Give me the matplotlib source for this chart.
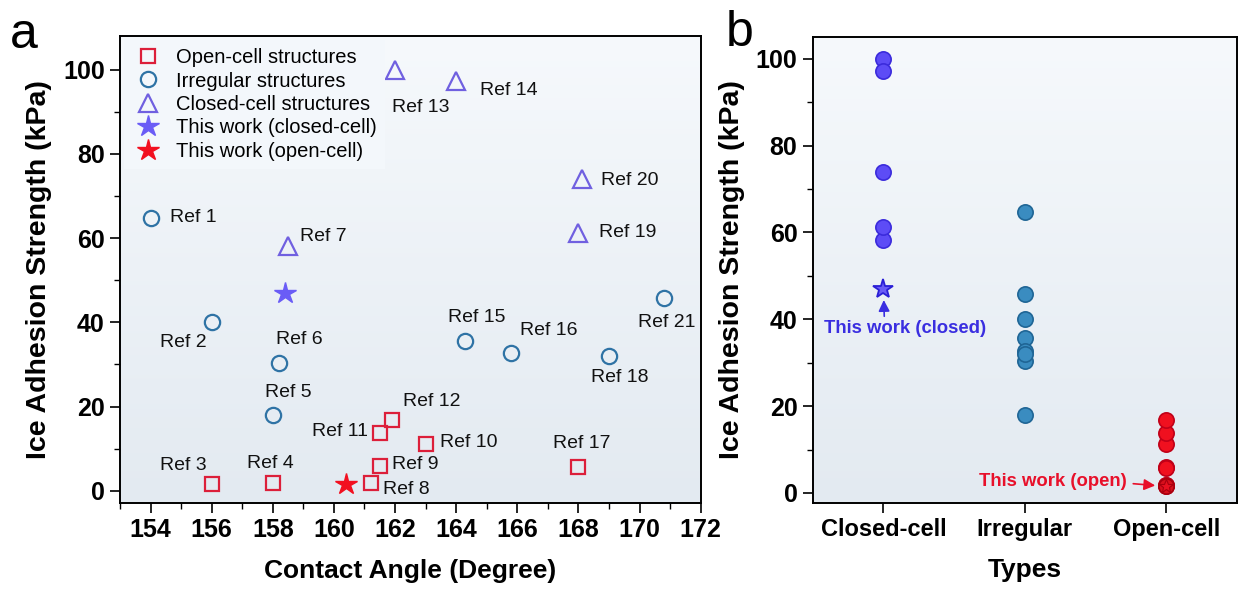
import numpy as np
import matplotlib.pyplot as plt
from matplotlib.colors import LinearSegmentedColormap

plt.rcParams['font.family'] = ['Liberation Sans', 'DejaVu Sans']

# Open-cell structures (contact angle, ice adhesion strength)
open_refs = ['Ref 3', 'Ref 4', 'Ref 8', 'Ref 9', 'Ref 10', 'Ref 11', 'Ref 12', 'Ref 17']
open_ca = [156.0, 158.0, 161.2, 161.5, 163.0, 161.5, 161.9, 168.0]
open_ias = [1.6, 1.9, 1.9, 5.9, 11.2, 13.8, 16.9, 5.7]

# Irregular structures
irr_refs = ['Ref 1', 'Ref 2', 'Ref 5', 'Ref 6', 'Ref 15', 'Ref 16', 'Ref 18', 'Ref 21']
irr_ca = [154.0, 156.0, 158.0, 158.2, 164.3, 165.8, 169.0, 170.8]
irr_ias = [64.8, 40.0, 18.0, 30.4, 35.6, 32.8, 32.1, 45.8]

# Closed-cell structures
closed_refs = ['Ref 7', 'Ref 13', 'Ref 14', 'Ref 19', 'Ref 20']
closed_ca = [158.5, 162.0, 164.0, 168.0, 168.1]
closed_ias = [58.2, 100.0, 97.2, 61.2, 74.0]

# this work
tw_closed = (158.4, 47.0)
tw_open = (160.4, 1.5)

types = ['Closed-cell', 'Irregular', 'Open-cell']

c_open = '#dc1f3a'
c_irr = '#2f73a5'
c_closed = '#7060e0'
c_star_closed = '#6a5cf6'
c_star_open = '#f21020'

# label offsets in pixels (dx, dy, ha)
lab_off = {
    'Ref 1': (19, 0, 'left'), 'Ref 2': (-5, -20, 'right'), 'Ref 3': (-5, 19, 'right'),
    'Ref 4': (-2, 19, 'center'), 'Ref 5': (16, 22, 'center'), 'Ref 6': (20, 23, 'center'),
    'Ref 7': (12, 9, 'left'), 'Ref 8': (12, -7, 'left'), 'Ref 9': (12, 1, 'left'),
    'Ref 10': (14, 1, 'left'), 'Ref 11': (-12, 1, 'right'), 'Ref 12': (11, 18, 'left'),
    'Ref 13': (26, -38, 'center'), 'Ref 14': (24, -9, 'left'), 'Ref 15': (11, 23, 'center'),
    'Ref 16': (9, 22, 'left'), 'Ref 17': (3, 23, 'center'), 'Ref 18': (11, -22, 'center'),
    'Ref 19': (21, 1, 'left'), 'Ref 20': (19, -1, 'left'), 'Ref 21': (3, -25, 'center'),
}

bg = LinearSegmentedColormap.from_list('bg', ['#e3eaf1', '#f6f9fc'])
grad = np.linspace(0, 1, 256).reshape(-1, 1)


def style_axes(ax):
    ax.imshow(grad, extent=[0, 1, 0, 1], transform=ax.transAxes, aspect='auto',
              cmap=bg, origin='lower', zorder=0)
    for s in ax.spines.values():
        s.set_linewidth(1.4)
    ax.tick_params(which='major', length=7, width=1.2, labelsize=18, pad=4)
    ax.tick_params(which='minor', length=4, width=1.0)
    for lab in ax.get_xticklabels() + ax.get_yticklabels():
        lab.set_fontweight('bold')


fig = plt.figure(figsize=(12.38, 5.91), dpi=100)
ax1 = fig.add_axes([0.0969, 0.1489, 0.4691, 0.7902])
ax2 = fig.add_axes([0.6565, 0.1494, 0.3427, 0.7885])

# ---- panel a ----
ms_kw = dict(linestyle='none', markerfacecolor='none', markeredgewidth=1.6, zorder=3)
ax1.plot(open_ca, open_ias, 's', color=c_open, markersize=10, label='Open-cell structures', **ms_kw)
ax1.plot(irr_ca, irr_ias, 'o', color=c_irr, markersize=11, label='Irregular structures', **ms_kw)
ax1.plot(closed_ca, closed_ias, '^', color=c_closed, markersize=13, label='Closed-cell structures', **ms_kw)
ax1.plot(*tw_closed, '*', color=c_star_closed, markersize=16, linestyle='none',
         label='This work (closed-cell)', zorder=4)
ax1.plot(*tw_open, '*', color=c_star_open, markersize=16, linestyle='none',
         label='This work (open-cell)', zorder=4)

for refs, xs, ys in [(open_refs, open_ca, open_ias), (irr_refs, irr_ca, irr_ias),
                     (closed_refs, closed_ca, closed_ias)]:
    for r, x, y in zip(refs, xs, ys):
        dx, dy, ha = lab_off[r]
        ax1.annotate(r, (x, y), xytext=(dx, dy), textcoords='offset pixels',
                     ha=ha, va='center', fontsize=14, color='#111111', zorder=5)

ax1.set_xlim(153, 172)
ax1.set_ylim(-2.9, 108)
ax1.set_xticks(np.arange(154, 173, 2))
ax1.set_xticks(np.arange(153, 173, 1), minor=True)
ax1.set_yticks(np.arange(0, 101, 20))
ax1.set_yticks(np.arange(0, 101, 10), minor=True)
style_axes(ax1)
ax1.set_xlabel('Contact Angle (Degree)', fontsize=19, fontweight='bold', labelpad=12)
ax1.set_ylabel('Ice Adhesion Strength (kPa)', fontsize=20.5, fontweight='bold', labelpad=8)

leg = ax1.legend(loc='upper left', fontsize=14.5, frameon=True, facecolor='#f3f7fb',
                 edgecolor='none', framealpha=1, labelspacing=0.22, handletextpad=0.6,
                 borderpad=0.4, borderaxespad=0.2, handlelength=1.6)
leg.get_frame().set_boxstyle('square', pad=0)

# ---- panel b ----
groups = [
    (closed_ias, '#5d4cf6', '#3b2bdc'),
    (irr_ias, '#3a8cc0', '#1f6595'),
    (open_ias, '#f0101f', '#c00018'),
]
for i, (vals, fc, ec) in enumerate(groups):
    ax2.plot([i] * len(vals), vals, 'o', markersize=11, markerfacecolor=fc,
             markeredgecolor=ec, markeredgewidth=1.2, linestyle='none', zorder=3)

ax2.plot(0, tw_closed[1], '*', markersize=15, markerfacecolor='#6a5cf6',
         markeredgecolor='#2a1fd6', markeredgewidth=1.3, linestyle='none', zorder=4)
ax2.plot(2, tw_open[1], 'o', markersize=11, markerfacecolor='#d8101c',
         markeredgecolor='#a8000f', markeredgewidth=1.2, linestyle='none', zorder=4)
ax2.plot(2, tw_open[1], '*', markersize=10, markerfacecolor='#e81020',
         markeredgecolor='#a8000f', markeredgewidth=0.8, linestyle='none', zorder=5)

ax2.annotate('This work (closed)', xy=(0, tw_closed[1]), xytext=(22, -40),
             textcoords='offset pixels', ha='center', va='center', fontsize=13.3,
             fontweight='bold', color='#3a2ee0',
             arrowprops=dict(arrowstyle='-|>,head_length=0.5,head_width=0.25',
                             color='#3a2ee0', lw=1.2, shrinkA=1, shrinkB=8,
                             relpos=(0.37, 1.0)))
ax2.annotate('This work (open)', xy=(2, tw_open[1]), xytext=(-40, 5),
             textcoords='offset pixels', ha='right', va='center', fontsize=13.3,
             fontweight='bold', color='#e8102a',
             arrowprops=dict(arrowstyle='-|>,head_length=0.5,head_width=0.25',
                             color='#e8102a', lw=1.2, shrinkA=3, shrinkB=8,
                             relpos=(1.0, 0.4)))

ax2.set_xlim(-0.5, 2.5)
ax2.set_ylim(-2.25, 105.1)
ax2.set_xticks(range(3))
ax2.set_xticklabels(types)
ax2.set_yticks(np.arange(0, 101, 20))
ax2.set_yticks(np.arange(0, 101, 10), minor=True)
style_axes(ax2)
ax2.tick_params(axis='x', labelsize=17)
ax2.set_xlabel('Types', fontsize=19, fontweight='bold', labelpad=12)
ax2.set_ylabel('Ice Adhesion Strength (kPa)', fontsize=20.5, fontweight='bold', labelpad=8)

fig.text(0.008, 0.94, 'a', fontsize=36, va='center', ha='left')
fig.text(0.586, 0.945, 'b', fontsize=36, va='center', ha='left')

fig.savefig('out.png', dpi=100)
